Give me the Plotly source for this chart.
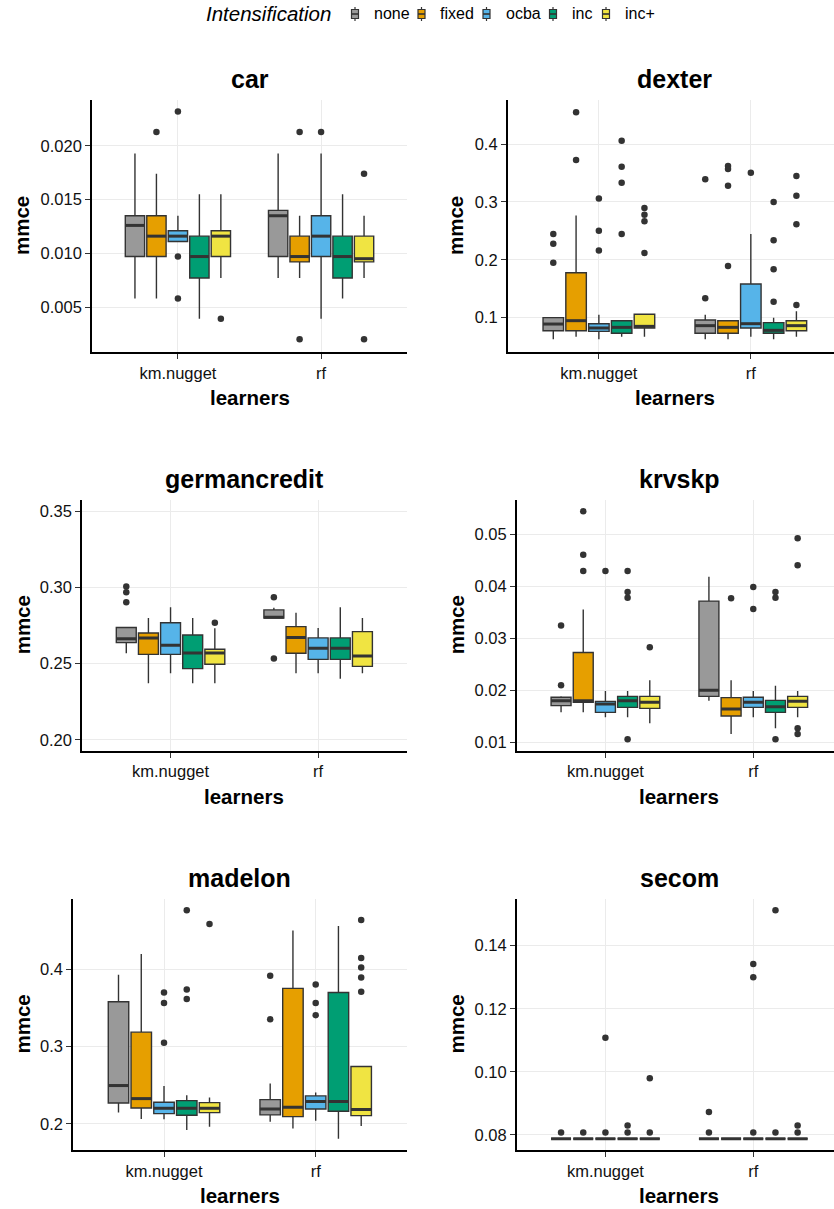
import plotly.graph_objects as go

# ---------------- data ----------------
LEARNERS = ["km.nugget", "rf"]
METHODS = ["none", "fixed", "ocba", "inc", "inc+"]
COLORS = ["#999999", "#E69F00", "#56B4E9", "#009E73", "#F0E442"]
DATASETS = ["car", "dexter", "germancredit", "krvskp", "madelon", "secom"]

# order of each list: km.nugget (none, fixed, ocba, inc, inc+), rf (none, fixed, ocba, inc, inc+)
CAR_LOWER = [0.0058, 0.0058, 0.0111, 0.0039, 0.0077, 0.0077, 0.0077, 0.0039, 0.0058, 0.0077]
CAR_Q1 = [0.0097, 0.0097, 0.0111, 0.0077, 0.0097, 0.0097, 0.0092, 0.0097, 0.0077, 0.0092]
CAR_MED = [0.0126, 0.0116, 0.0116, 0.0097, 0.0116, 0.0135, 0.0097, 0.0116, 0.0097, 0.0095]
CAR_Q3 = [0.0135, 0.0135, 0.0121, 0.0116, 0.0121, 0.0140, 0.0116, 0.0135, 0.0116, 0.0116]
CAR_UPPER = [0.0193, 0.0174, 0.0135, 0.0155, 0.0155, 0.0193, 0.0135, 0.0193, 0.0155, 0.0135]
CAR_OUT = [[], [0.0213], [0.0232, 0.0097, 0.0058], [], [0.0039],
           [], [0.0213, 0.0020], [0.0213], [], [0.0174, 0.0020]]

DEXTER_LOWER = [0.0626, 0.0672, 0.0626, 0.0672, 0.0672, 0.0626, 0.0626, 0.0672, 0.0626, 0.0672]
DEXTER_Q1 = [0.0775, 0.0775, 0.0764, 0.0730, 0.0822, 0.0730, 0.0730, 0.0822, 0.0730, 0.0775]
DEXTER_MED = [0.0890, 0.0948, 0.0822, 0.0833, 0.0850, 0.0862, 0.0833, 0.0896, 0.0781, 0.0862]
DEXTER_Q3 = [0.1000, 0.1777, 0.0896, 0.0948, 0.1058, 0.0960, 0.0948, 0.1581, 0.0914, 0.0948]
DEXTER_UPPER = [0.1000, 0.2767, 0.1052, 0.0948, 0.1058, 0.1052, 0.0948, 0.2445, 0.1000, 0.1110]
DEXTER_OUT = [[0.2445, 0.2278, 0.195], [0.455, 0.3723], [0.306, 0.25, 0.216],
              [0.4057, 0.3608, 0.3332, 0.2445], [0.2894, 0.2779, 0.2664, 0.2117],
              [0.339, 0.1334], [0.362, 0.3568, 0.328, 0.1892], [0.3504],
              [0.300, 0.2336, 0.1835, 0.1276], [0.3447, 0.3107, 0.2612, 0.1219]]

GERMAN_LOWER = [0.2568, 0.2371, 0.2436, 0.2371, 0.2371, 0.2800, 0.2436, 0.2436, 0.2401, 0.2436]
GERMAN_Q1 = [0.2638, 0.2561, 0.2561, 0.2467, 0.2496, 0.2800, 0.2568, 0.2528, 0.2528, 0.2482]
GERMAN_MED = [0.2664, 0.2669, 0.2620, 0.2570, 0.2570, 0.2804, 0.2671, 0.2601, 0.2601, 0.2550]
GERMAN_Q3 = [0.2737, 0.2701, 0.2769, 0.2688, 0.2594, 0.2853, 0.2743, 0.2669, 0.2669, 0.2710]
GERMAN_UPPER = [0.2737, 0.2800, 0.2870, 0.2800, 0.2732, 0.2867, 0.2835, 0.2734, 0.2870, 0.2800]
GERMAN_OUT = [[0.3006, 0.2969, 0.2903], [], [], [], [0.2769],
              [0.2936, 0.2533], [], [], [], []]

KRVSKP_LOWER = [0.0157, 0.0157, 0.01474, 0.01474, 0.0136, 0.01795, 0.01154, 0.01474, 0.01263, 0.01474]
KRVSKP_Q1 = [0.0170, 0.01763, 0.0157, 0.01667, 0.01647, 0.01878, 0.0150, 0.01667, 0.0157, 0.01667]
KRVSKP_MED = [0.01795, 0.01795, 0.0173, 0.01795, 0.01763, 0.01994, 0.01635, 0.01763, 0.0168, 0.01782]
KRVSKP_Q3 = [0.0186, 0.0272, 0.01782, 0.01878, 0.01878, 0.0371, 0.01853, 0.0186, 0.01801, 0.01878]
KRVSKP_UPPER = [0.0188, 0.0355, 0.0198, 0.0198, 0.0219, 0.0418, 0.0219, 0.0198, 0.02083, 0.0198]
KRVSKP_OUT = [[0.0324, 0.0209], [0.0544, 0.046, 0.0429], [0.0429],
              [0.0429, 0.03885, 0.03776, 0.01051], [0.0282],
              [], [0.03763], [0.0398, 0.03558], [0.03885, 0.03776, 0.01051],
              [0.04917, 0.04397, 0.01263, 0.01154]]

MADELON_LOWER = [0.2147, 0.2065, 0.2060, 0.1922, 0.1965, 0.2030, 0.1940, 0.2043, 0.1810, 0.1974]
MADELON_Q1 = [0.2272, 0.2207, 0.2134, 0.2112, 0.2147, 0.2117, 0.2095, 0.2194, 0.2164, 0.2108]
MADELON_MED = [0.2497, 0.2328, 0.2203, 0.2203, 0.2203, 0.2194, 0.2216, 0.2289, 0.2289, 0.2186]
MADELON_Q3 = [0.3581, 0.3188, 0.2281, 0.2302, 0.2276, 0.2315, 0.3754, 0.2363, 0.3702, 0.2743]
MADELON_UPPER = [0.3931, 0.4199, 0.2492, 0.2371, 0.2341, 0.2523, 0.4505, 0.2406, 0.4562, 0.2743]
MADELON_OUT = [[], [], [0.3702, 0.3564, 0.305], [0.4765, 0.3741, 0.3616], [0.4588],
               [0.3918, 0.3356], [], [0.3806, 0.3564, 0.3408], [],
               [0.4639, 0.4147, 0.4026, 0.3896, 0.3711]]

SECOM_LOWER = [0.0788] * 10
SECOM_Q1 = [0.0788] * 10
SECOM_MED = [0.0788] * 10
SECOM_Q3 = [0.0788] * 10
SECOM_UPPER = [0.0788] * 10
SECOM_OUT = [[0.0808], [0.0808], [0.0808, 0.1108], [0.0808, 0.083], [0.0808, 0.098],
             [0.0808, 0.0873], [], [0.0808, 0.1342, 0.130], [0.0808, 0.1512], [0.0808, 0.083]]

# y-axis settings per panel
Y_RANGES = [[0.00081, 0.02428], [0.0407, 0.476], [0.1928, 0.3575],
            [0.00833, 0.05654], [0.1663, 0.4911], [0.07524, 0.1548]]
Y_TICKS = [[0.005, 0.010, 0.015, 0.020], [0.1, 0.2, 0.3, 0.4], [0.20, 0.25, 0.30, 0.35],
           [0.01, 0.02, 0.03, 0.04, 0.05], [0.2, 0.3, 0.4], [0.08, 0.10, 0.12, 0.14]]
Y_FORMATS = [".3f", ".1f", ".2f", ".2f", ".1f", ".2f"]

STATS = [
    (CAR_LOWER, CAR_Q1, CAR_MED, CAR_Q3, CAR_UPPER, CAR_OUT),
    (DEXTER_LOWER, DEXTER_Q1, DEXTER_MED, DEXTER_Q3, DEXTER_UPPER, DEXTER_OUT),
    (GERMAN_LOWER, GERMAN_Q1, GERMAN_MED, GERMAN_Q3, GERMAN_UPPER, GERMAN_OUT),
    (KRVSKP_LOWER, KRVSKP_Q1, KRVSKP_MED, KRVSKP_Q3, KRVSKP_UPPER, KRVSKP_OUT),
    (MADELON_LOWER, MADELON_Q1, MADELON_MED, MADELON_Q3, MADELON_UPPER, MADELON_OUT),
    (SECOM_LOWER, SECOM_Q1, SECOM_MED, SECOM_Q3, SECOM_UPPER, SECOM_OUT),
]

# ---------------- layout geometry (pixels) ----------------
W, H = 834, 1209
# left, right, top, bottom of each plotting area (right may extend past the page)
PANEL_PX = [(92, 407, 100, 352), (507.7, 842, 100, 352),
            (82, 406.7, 500, 750.7), (516.7, 842, 500, 750.7),
            (73, 406.7, 899, 1150), (516.7, 842, 899, 1150)]
TITLE_Y = [79, 79, 479, 479, 878, 878]
XTITLE_Y = [397, 397, 796, 796, 1195, 1195]
YTITLE_X = [22, 456, 22, 456, 22, 456]

# legend geometry (pixels)
LEG_Y = 14
LEG_TITLE_RIGHT = 333
LEG_GLYPH_X = [355, 421.5, 486.5, 553, 606]
LEG_TEXT_GAP = 17

DODGE = 0.15
BOX_W = 0.135
FONT = "Liberation Sans, Arial, sans-serif"
DARK = "#333333"

fig = go.Figure()
annotations = []
shapes = []
layout_axes = {}

for p, name in enumerate(DATASETS):
    lower, q1, med, q3, upper, outs = STATS[p]
    xa = "x" if p == 0 else f"x{p + 1}"
    ya = "y" if p == 0 else f"y{p + 1}"
    for li, learner in enumerate(LEARNERS):
        for mi, method in enumerate(METHODS):
            k = li * len(METHODS) + mi
            pos = (li + 1) + (mi - 2) * DODGE
            fig.add_trace(go.Box(
                x=[pos], q1=[q1[k]], median=[med[k]], q3=[q3[k]],
                lowerfence=[lower[k]], upperfence=[upper[k]],
                width=BOX_W, whiskerwidth=0,
                fillcolor=COLORS[mi], line=dict(color=DARK, width=1.4),
                name=method, legendgroup=method, showlegend=False,
                boxpoints=False, hoverinfo="skip",
                xaxis=xa, yaxis=ya,
            ))
            fig.add_trace(go.Scatter(
                x=[pos - BOX_W / 2, pos + BOX_W / 2], y=[med[k], med[k]],
                mode="lines", line=dict(color=DARK, width=3),
                showlegend=False, hoverinfo="skip", xaxis=xa, yaxis=ya,
            ))
            if outs[k]:
                fig.add_trace(go.Scatter(
                    x=[pos] * len(outs[k]), y=outs[k], mode="markers",
                    marker=dict(color=DARK, size=6.5),
                    showlegend=False, hoverinfo="skip", xaxis=xa, yaxis=ya,
                ))

    l, r, t, b = PANEL_PX[p]
    x_hi = 2.6
    r_dom = r
    if r > W:
        x_hi = 0.4 + 2.2 * (W - l) / (r - l)
        r_dom = W
    axis_common = dict(
        showline=True, linecolor="black", linewidth=1.6,
        ticks="outside", ticklen=5, tickwidth=1.3, tickcolor=DARK,
        showgrid=True, gridcolor="#EBEBEB", gridwidth=1.2, zeroline=False,
        tickfont=dict(family=FONT, size=16.5, color="#111111"),
    )
    layout_axes["xaxis" if p == 0 else f"xaxis{p + 1}"] = dict(
        axis_common, domain=[l / W, r_dom / W], anchor=ya,
        range=[0.4, x_hi], tickmode="array", tickvals=[1, 2], ticktext=LEARNERS,
        fixedrange=True,
    )
    layout_axes["yaxis" if p == 0 else f"yaxis{p + 1}"] = dict(
        axis_common, domain=[1 - b / H, 1 - t / H], anchor=xa,
        range=Y_RANGES[p], tickmode="array", tickvals=Y_TICKS[p],
        tickformat=Y_FORMATS[p], fixedrange=True,
    )
    cx = (l + r) / 2 / W
    annotations.append(dict(text=f"<b>{name}</b>", x=cx, y=1 - TITLE_Y[p] / H,
                            xref="paper", yref="paper", showarrow=False,
                            xanchor="center", yanchor="middle",
                            font=dict(family=FONT, size=25, color="black")))
    annotations.append(dict(text="<b>learners</b>", x=cx, y=1 - XTITLE_Y[p] / H,
                            xref="paper", yref="paper", showarrow=False,
                            xanchor="center", yanchor="middle",
                            font=dict(family=FONT, size=20.5, color="black")))
    annotations.append(dict(text="<b>mmce</b>", x=YTITLE_X[p] / W,
                            y=1 - (t + b) / 2 / H, textangle=-90,
                            xref="paper", yref="paper", showarrow=False,
                            xanchor="center", yanchor="middle",
                            font=dict(family=FONT, size=20.5, color="black")))

# ---------------- legend (drawn as key glyphs + labels) ----------------
annotations.append(dict(text="<i>Intensification</i>", x=LEG_TITLE_RIGHT / W,
                        y=1 - LEG_Y / H, xref="paper", yref="paper", showarrow=False,
                        xanchor="right", yanchor="middle",
                        font=dict(family=FONT, size=20.5, color="black")))
for mi, method in enumerate(METHODS):
    gx = LEG_GLYPH_X[mi]
    shapes.append(dict(type="line", xref="paper", yref="paper",
                       x0=gx / W, x1=gx / W, y0=1 - (LEG_Y - 7) / H, y1=1 - (LEG_Y + 7) / H,
                       line=dict(color=DARK, width=1.2)))
    shapes.append(dict(type="rect", xref="paper", yref="paper",
                       x0=(gx - 3.5) / W, x1=(gx + 3.5) / W,
                       y0=1 - (LEG_Y - 4.5) / H, y1=1 - (LEG_Y + 4.5) / H,
                       fillcolor=COLORS[mi], line=dict(color=DARK, width=1.2)))
    shapes.append(dict(type="line", xref="paper", yref="paper",
                       x0=(gx - 3.5) / W, x1=(gx + 3.5) / W,
                       y0=1 - LEG_Y / H, y1=1 - LEG_Y / H,
                       line=dict(color=DARK, width=1.6)))
    annotations.append(dict(text=method, x=(gx + LEG_TEXT_GAP) / W, y=1 - LEG_Y / H,
                            xref="paper", yref="paper", showarrow=False,
                            xanchor="left", yanchor="middle",
                            font=dict(family=FONT, size=16, color="black")))

fig.update_layout(
    width=W, height=H,
    margin=dict(l=0, r=0, t=0, b=0),
    paper_bgcolor="white", plot_bgcolor="white",
    font=dict(family=FONT, color="black"),
    showlegend=False,
    annotations=annotations,
    shapes=shapes,
    **layout_axes,
)

fig.write_html("out.html")
